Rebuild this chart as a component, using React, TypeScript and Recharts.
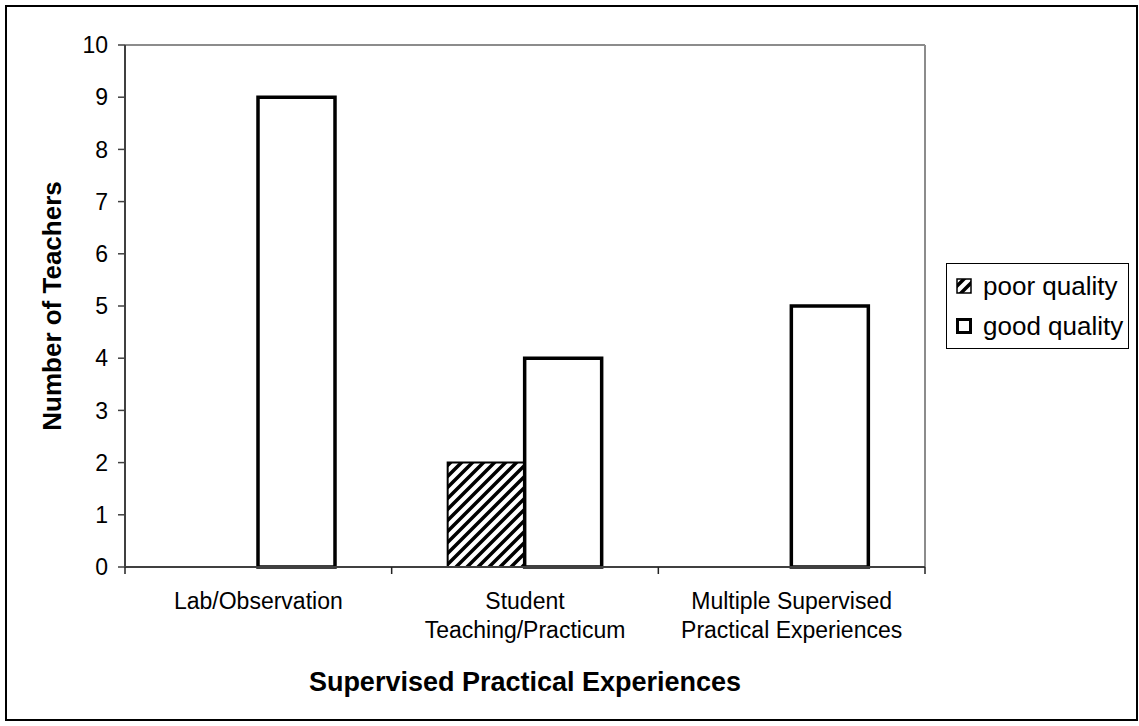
import { BarChart, Bar, XAxis, YAxis, Legend, Label, ReferenceLine } from 'recharts';

const categories = ['Lab/Observation', 'Student Teaching/Practicum', 'Multiple Supervised Practical Experiences'];
const categoryLines = [['Lab/Observation'], ['Student', 'Teaching/Practicum'], ['Multiple Supervised', 'Practical Experiences']];
const poorQuality = [0, 2, 0];
const goodQuality = [9, 4, 5];
const yTicks = [0, 1, 2, 3, 4, 5, 6, 7, 8, 9, 10];
const seriesOrder = ['poor', 'good'];

const data = categories.map((name, i) => ({ name, poor: poorQuality[i], good: goodQuality[i] }));

const FONT = '"Liberation Sans", Arial, sans-serif';

// label lines plus the little tick marks on the category borders
const CategoryTick = (props: any) => {
  const { x, y, index, payload } = props;
  const lines = categoryLines[index] || [];
  const half = payload?.offset ?? 0;
  const last = index === categories.length - 1;
  return (
    <g>
      <line x1={x - half} x2={x - half} y1={y} y2={y + 7} stroke="#222" strokeWidth={1.5} />
      {last && <line x1={x + half} x2={x + half} y1={y} y2={y + 7} stroke="#222" strokeWidth={1.5} />}
      <text x={x} y={y} textAnchor="middle" fill="#000" fontSize={23} fontFamily={FONT}>
        {lines.map((l, i) => (
          <tspan key={i} x={x} dy={i === 0 ? 42 : 29}>{l}</tspan>
        ))}
      </text>
    </g>
  );
};

const YTitle = (props: any) => {
  const { viewBox } = props;
  const cx = viewBox.x + 52;
  const cy = viewBox.y + viewBox.height / 2;
  return (
    <text x={cx} y={cy} transform={`rotate(-90 ${cx} ${cy})`} textAnchor="middle" dominantBaseline="central"
      fontSize={26} fontWeight="bold" fontFamily={FONT} fill="#000">
      Number of Teachers
    </text>
  );
};

const renderLegend = (props: any) => {
  const items = [...(props.payload || [])].sort(
    (a: any, b: any) => seriesOrder.indexOf(a.dataKey) - seriesOrder.indexOf(b.dataKey)
  );
  return (
    <div style={{ border: '1px solid #000', background: '#fff', padding: '2px 0', fontFamily: FONT, fontSize: 26, color: '#000' }}>
      {items.map((item: any) => {
        const poor = item.dataKey === 'poor';
        return (
          <div key={item.value} style={{ display: 'flex', alignItems: 'center', height: 40, paddingLeft: 8 }}>
            <svg width={18} height={18} style={{ marginRight: 10 }}>
              <rect x={poor ? 2 : 2.5} y={poor ? 2 : 2.5} width={poor ? 14 : 13} height={poor ? 14 : 13}
                fill={poor ? 'url(#hatch)' : '#fff'} stroke="#000" strokeWidth={poor ? 1.5 : 3} />
            </svg>
            <span>{item.value}</span>
          </div>
        );
      })}
    </div>
  );
};

export default function App() {
  const lastCat = categories[categories.length - 1];
  return (
    <div style={{ position: 'relative', width: 1139, height: 726, background: '#fff' }}>
      <style>{'body{margin:0}'}</style>
      <div style={{ position: 'absolute', left: 5, top: 5, width: 1133, height: 716, border: '2px solid #000', boxSizing: 'border-box' }} />
      <div style={{ position: 'absolute', left: 0, top: 0 }}>
        <BarChart width={1139} height={726} data={data} margin={{ top: 45, right: 214, bottom: 0, left: 0 }}
          barCategoryGap="21%" barGap={0}>
          <defs>
            <pattern id="hatch" patternUnits="userSpaceOnUse" width="11" height="11">
              <rect width="11" height="11" fill="#fff" />
              <path d="M-2,2 l4,-4 M0,11 l11,-11 M9,13 l4,-4" stroke="#000" strokeWidth="3.5" />
            </pattern>
          </defs>
          <ReferenceLine y={10} stroke="#8c8c8c" strokeWidth={2} />
          <ReferenceLine x={lastCat} position="end" stroke="#8c8c8c" strokeWidth={2} />
          <XAxis dataKey="name" height={159} axisLine={{ stroke: '#404040', strokeWidth: 2 }} tickLine={false}
            tickSize={0} tickMargin={0} interval={0} tick={<CategoryTick />}>
            <Label value="Supervised Practical Experiences" position="insideBottom" offset={35}
              style={{ fontSize: 27, fontWeight: 'bold', fontFamily: FONT, fill: '#000' }} />
          </XAxis>
          <YAxis width={125} domain={[0, 10]} ticks={yTicks} interval={0} tickSize={7} tickMargin={10}
            axisLine={{ stroke: '#404040', strokeWidth: 2 }} tickLine={{ stroke: '#404040', strokeWidth: 1.5 }}
            tick={{ fontSize: 23, fontFamily: FONT, fill: '#000' }}>
            <Label content={<YTitle />} />
          </YAxis>
          <Legend layout="vertical" align="center" verticalAlign="middle" content={renderLegend}
            wrapperStyle={{ position: 'absolute', left: 946, top: 263, width: 183, height: 'auto' }} />
          <Bar dataKey="poor" name="poor quality" fill="url(#hatch)" stroke="#000" strokeWidth={2}
            isAnimationActive={false} />
          <Bar dataKey="good" name="good quality" fill="#fff" stroke="#000" strokeWidth={3.5}
            isAnimationActive={false} />
        </BarChart>
      </div>
    </div>
  );
}
